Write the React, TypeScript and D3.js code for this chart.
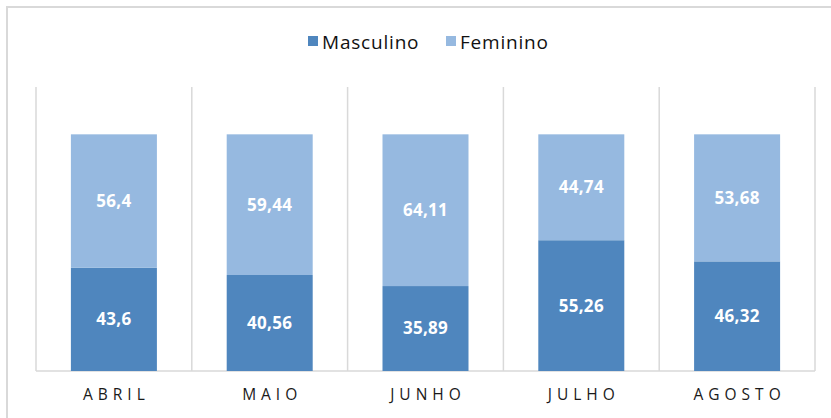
import React from "react";
import * as d3 from "d3";

const categories = ["ABRIL", "MAIO", "JUNHO", "JULHO", "AGOSTO"];
const masculino = [43.6, 40.56, 35.89, 55.26, 46.32];
const feminino = [56.4, 59.44, 64.11, 44.74, 53.68];
const seriesNames = ["Masculino", "Feminino"];
const colors = ["#4F86BE", "#96B9E0"];

const fmt = (v: number) => String(v).replace(".", ",");

export default function App() {
  const W = 831, H = 418;
  const left = 36, right = 815, top = 87, bottom = 371;
  const x = d3.scaleBand<string>().domain(categories).range([left, right]).paddingInner(0.448).paddingOuter(0.224);
  const y = d3.scaleLinear().domain([0, 120]).range([bottom, top]);
  const rows = categories.map((c, i) => ({ cat: c, Masculino: masculino[i], Feminino: feminino[i] }));
  const stack = d3.stack<any>().keys(seriesNames)(rows);
  const step = (right - left) / categories.length;
  const font = "'Open Sans', 'DejaVu Sans', sans-serif";
  return (
    <svg width={W} height={H} style={{ position: "absolute", left: 0, top: 0 }}>
      <rect x={0} y={0} width={W} height={H} fill="#fff" />
      <rect x={7} y={7} width={W + 10} height={H + 10} fill="none" stroke="#d9d9d9" strokeWidth={2} />
      {d3.range(categories.length + 1).map((i) => (
        <line key={i} x1={left + i * step} x2={left + i * step} y1={top} y2={bottom} stroke="#d9d9d9" strokeWidth={1.5} />
      ))}
      <line x1={left} x2={right} y1={bottom} y2={bottom} stroke="#d9d9d9" strokeWidth={1.5} />
      {stack.map((s, si) =>
        s.map((d, i) => {
          const x0 = x(categories[i])!;
          const y0 = y(d[1]);
          const h = y(d[0]) - y(d[1]);
          return (
            <g key={si + "-" + i}>
              <rect x={x0} y={y0} width={x.bandwidth()} height={h} fill={colors[si]} />
              <text x={x0 + x.bandwidth() / 2} y={y0 + h / 2} dy="0.35em" textAnchor="middle" fill="#fff" fontFamily={font} fontWeight="bold" fontSize={17} letterSpacing={0.3}>
                {fmt(si === 0 ? masculino[i] : feminino[i])}
              </text>
            </g>
          );
        })
      )}
      {categories.map((c) => (
        <text key={c} x={x(c)! + x.bandwidth() / 2 + 2.5} y={395} dy="0.35em" textAnchor="middle" fill="#1a1a1a" fontFamily={font} fontSize={15.5} letterSpacing={5}>
          {c}
        </text>
      ))}
      {seriesNames.map((n, i) => {
        const lx = i === 0 ? 308 : 446;
        return (
          <g key={n}>
            <rect x={lx} y={36} width={10} height={10} fill={colors[i]} />
            <text x={lx + 14} y={42} dy="0.35em" fill="#111" fontFamily={font} fontSize={19} letterSpacing={0.8}>
              {n}
            </text>
          </g>
        );
      })}
    </svg>
  );
}
